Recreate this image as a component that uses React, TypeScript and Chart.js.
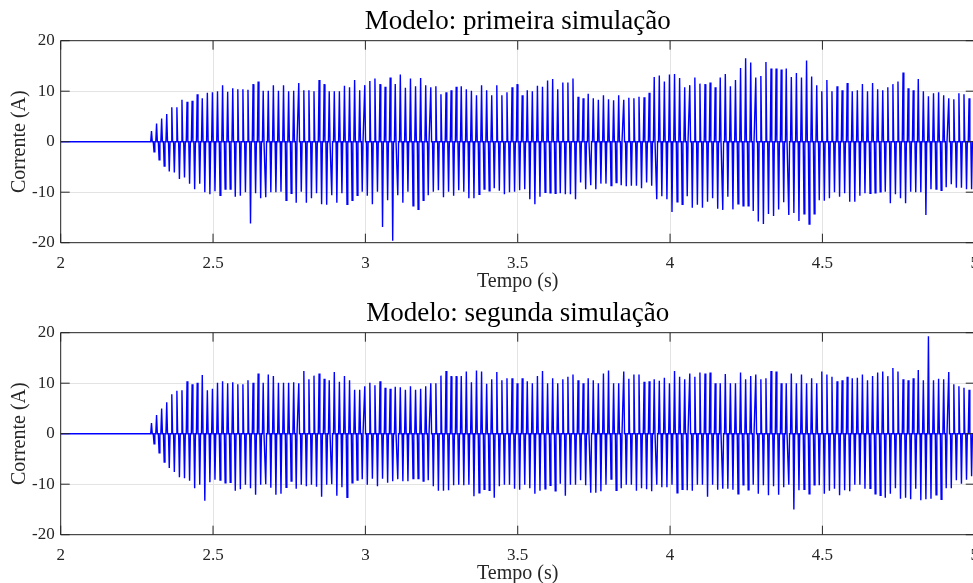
import React, { useEffect, useRef } from 'react';
import { Chart, registerables } from 'chart.js';

Chart.register(...registerables);

// Simulated current: one positive and one negative pulse per 60 Hz cycle
const pulseStart = 2.298; // s, first pulse
const pulsePeriod = 1 / 60; // s
const pulseHalfWidth = 0.0026; // s
const timeMin = 2;
const timeMax = 5;

const xTicks = [2, 2.5, 3, 3.5, 4, 4.5, 5];
const yTicks = [-20, -10, 0, 10, 20];

const firstTitle = 'Modelo: primeira simulação';
const secondTitle = 'Modelo: segunda simulação';
const xLabel = 'Tempo (s)';
const yLabel = 'Corrente (A)';

// Peak current of each cycle (A), first simulation
const firstPositive = [
  2.1, 3.6, 4.6, 5.5, 6.8, 6.8, 8.3, 7.9, 8.1, 9.4, 8.6, 9.7, 9.8, 10.0, 11.2, 9.9, 10.6, 10.4, 10.4, 10.3,
  11.4, 11.9, 10.1, 10.1, 11.2, 10.1, 11.2, 10.0, 10.1, 11.6, 10.2, 10.2,
  10.0, 12.2, 11.4, 10.0, 10.0, 10.0, 11.1, 10.8, 12.2, 10.2, 11.2, 12.0, 12.5, 11.4, 10.9, 12.7, 11.4, 13.3,
  10.7, 12.5, 11.0, 12.6, 11.2, 10.8, 11.0, 9.4, 9.8, 10.2, 10.9, 11.0, 10.4,
  10.1, 9.2, 11.2, 10.2, 9.2, 11.2, 9.2, 9.8, 10.8, 11.4, 9.2, 10.2, 10.0, 11.1, 10.9, 12.1, 12.4, 10.4,
  11.7, 11.7, 12.5, 8.9, 8.6, 9.5, 8.6, 8.3, 9.2, 8.4, 8.2, 9.2, 8.3, 8.7,
  8.6, 8.9, 8.8, 9.7, 12.8, 13.1, 11.9, 13.3, 13.4, 12.6, 10.8, 11.2, 12.7, 11.5, 11.4, 11.7, 10.8, 12.7,
  13.4, 11.0, 12.2, 14.6, 16.5, 15.7, 12.7, 13.0, 15.8, 14.5, 14.5, 14.3, 14.5,
  12.8, 13.6, 12.7, 16.1, 12.9, 11.2, 10.0, 12.2, 10.0, 11.0, 10.2, 11.6, 10.0, 10.2, 11.4, 10.0, 11.6, 10.4,
  10.2, 10.8, 11.4, 11.9, 13.7, 10.6, 10.2, 12.4, 10.0, 9.0, 9.6, 9.8, 9.2, 8.6, 8.4, 9.6, 9.4, 8.6,
];
const firstNegative = [
  -2.0, -3.6, -4.8, -5.9, -6.1, -7.4, -7.1, -8.3, -9.4, -8.3, -10.0, -10.4, -9.8, -10.6, -9.4, -9.4, -10.9,
  -10.7, -10.0, -16.2, -10.2, -11.2, -11.0, -10.0, -10.0, -9.9, -11.6, -10.2, -12.1, -9.9, -12.1,
  -11.2, -10.2, -12.4, -12.5, -10.6, -12.1, -10.2, -12.4, -11.6, -10.6, -9.9, -10.7, -12.4, -9.9, -16.9,
  -11.6, -19.6, -10.6, -12.1, -9.9, -12.7, -13.4, -11.6, -10.6, -9.9, -9.6, -11.0, -9.9, -10.7, -9.6, -9.9, -11.2,
  -11.2, -10.4, -9.4, -9.7, -9.2, -9.7, -10.4, -10.0, -9.9, -9.6, -9.4, -11.4, -12.4, -10.9, -10.0, -10.1,
  -10.2, -10.2, -10.4, -10.4, -11.4, -8.1, -9.4, -8.6, -9.4, -8.3, -8.3, -8.7, -8.1, -8.6, -8.8,
  -8.7, -8.7, -9.2, -8.1, -8.7, -11.4, -10.8, -11.4, -13.9, -11.9, -12.4, -10.8, -13.1, -12.5, -13.1, -11.9,
  -11.2, -13.3, -13.5, -10.9, -13.4, -12.3, -12.7, -12.7, -13.7, -15.8, -16.3, -14.3, -14.7, -13.4, -12.0, -14.5,
  -14.1, -15.7, -14.3, -16.3, -14.3, -11.6, -11.7, -11.2, -10.0, -10.9, -10.2, -11.9, -11.9, -10.7, -10.2,
  -10.2, -10.1, -9.9, -9.9, -12.2, -10.4, -11.2, -12.2, -9.9, -10.0, -10.0, -14.5, -9.4, -9.4, -9.6, -9.0,
  -8.4, -9.1, -9.1, -9.4, -9.4,
];

// Peak current of each cycle (A), second simulation
const secondPositive = [
  2.1, 3.7, 5.0, 6.2, 7.8, 8.5, 8.6, 10.4, 9.8, 10.1, 11.6, 8.6, 8.9, 10.1, 10.4, 10.0, 10.2, 9.8, 9.8, 10.6,
  10.1, 11.9, 10.1, 11.7, 11.4, 10.1, 10.1, 10.1, 10.2, 10.0, 12.4, 10.8,
  11.5, 11.9, 10.9, 10.6, 12.2, 10.3, 11.4, 10.6, 8.7, 8.7, 9.4, 10.1, 9.6, 10.4, 9.1, 8.9, 9.3, 9.2, 8.7,
  9.4, 8.7, 8.9, 9.4, 10.0, 10.0, 11.5, 12.4, 11.4, 11.4, 11.4, 12.3,
  10.2, 12.5, 12.3, 9.9, 10.8, 12.2, 10.6, 11.0, 11.0, 10.0, 11.0, 10.4, 10.0, 11.4, 12.4, 10.0, 11.0, 10.0,
  10.8, 11.3, 11.7, 10.6, 10.0, 11.0, 10.6, 10.0, 11.9, 12.5, 10.0, 10.0, 12.3, 10.9,
  11.7, 11.7, 10.3, 10.4, 10.8, 10.5, 11.1, 10.0, 12.4, 11.3, 10.8, 11.9, 11.3, 12.1, 11.9, 12.1, 10.0, 10.0,
  11.8, 10.0, 10.0, 12.1, 10.8, 11.4, 11.7, 10.8, 11.0, 12.4, 12.3, 10.0, 10.0,
  11.9, 10.0, 11.7, 10.0, 11.0, 10.0, 12.3, 11.7, 11.3, 10.4, 10.6, 11.3, 11.0, 11.1, 11.7, 10.6, 11.4, 12.1,
  12.3, 11.4, 13.0, 12.3, 10.8, 10.6, 11.0, 12.6, 10.6, 19.3, 10.6, 10.9, 10.8, 12.2, 9.8, 9.4, 9.1, 8.7,
];
const secondNegative = [
  -2.0, -3.8, -5.6, -6.8, -7.6, -8.6, -8.8, -9.3, -10.8, -10.1, -13.3, -9.6, -9.1, -9.2, -9.7, -9.6, -11.3,
  -11.0, -10.1, -10.8, -12.1, -10.1, -10.0, -10.7, -12.1, -11.9, -10.6, -9.4, -10.9, -10.1, -10.4,
  -10.1, -10.5, -12.5, -10.1, -10.0, -12.3, -10.6, -12.6, -9.7, -9.2, -9.0, -10.1, -8.9, -10.4, -8.9, -9.7,
  -9.4, -9.0, -9.4, -9.4, -8.9, -8.9, -9.4, -9.2, -10.4, -11.3, -11.3, -11.2, -10.2, -10.1, -10.2, -10.1,
  -12.4, -11.7, -11.0, -11.2, -12.7, -10.4, -10.1, -10.1, -10.9, -11.1, -10.1, -10.8, -11.9, -11.3, -10.9,
  -10.2, -11.3, -9.9, -12.3, -10.1, -10.1, -9.2, -10.2, -11.7, -11.7, -11.4, -10.1, -9.0, -11.2, -10.8, -10.1,
  -10.1, -11.3, -10.8, -11.0, -11.4, -10.1, -10.6, -10.6, -10.1, -11.7, -11.0, -11.2, -11.3, -10.1, -10.1,
  -12.5, -10.1, -11.1, -10.9, -10.9, -11.1, -11.9, -10.1, -11.1, -10.1, -11.9, -10.2, -12.2, -10.4, -12.1,
  -10.6, -10.1,
  -15.0, -11.2, -11.0, -11.9, -10.1, -10.2, -11.9, -11.3, -10.9, -12.2, -11.2, -11.4, -10.1, -10.1, -10.9,
  -10.8, -11.9, -12.2, -12.7, -11.9, -10.8, -12.9, -12.7, -13.0, -10.9, -13.2, -13.0, -12.9, -12.1, -13.0,
  -10.8, -10.8, -9.2, -9.9, -9.1, -8.4,
];

const FONT = 'Liberation Serif';
const TEXT = '#262626';
const GRID = '#e3e3e3';
const LINE = '#0000ff';

const CANVAS_W = 990;
const CANVAS_H = 292;

type Pt = { x: number; y: number };

function buildWave(pos: number[], neg: number[]): Pt[] {
  const pts: Pt[] = [{ x: timeMin, y: 0 }];
  for (let k = 0; k < pos.length; k++) {
    const tp = pulseStart + k * pulsePeriod;
    const tn = tp + pulsePeriod / 2;
    pts.push({ x: tp - pulseHalfWidth, y: 0 }, { x: tp, y: pos[k] }, { x: tp + pulseHalfWidth, y: 0 });
    pts.push({ x: tn - pulseHalfWidth, y: 0 }, { x: tn, y: neg[k] }, { x: tn + pulseHalfWidth, y: 0 });
  }
  pts.push({ x: timeMax, y: 0 });
  return pts;
}

// Box around the axes with inward tick marks on all four sides
const framePlugin = {
  id: 'frame',
  afterDraw(chart: any) {
    const { ctx, chartArea: a, scales } = chart;
    const tick = 9;
    ctx.save();
    ctx.strokeStyle = TEXT;
    ctx.lineWidth = 1;
    ctx.beginPath();
    ctx.rect(a.left, a.top, a.right - a.left, a.bottom - a.top);
    for (const v of xTicks) {
      const px = scales.x.getPixelForValue(v);
      ctx.moveTo(px, a.bottom);
      ctx.lineTo(px, a.bottom - tick);
      ctx.moveTo(px, a.top);
      ctx.lineTo(px, a.top + tick);
    }
    for (const v of yTicks) {
      const py = scales.y.getPixelForValue(v);
      ctx.moveTo(a.left, py);
      ctx.lineTo(a.left + tick, py);
      ctx.moveTo(a.right, py);
      ctx.lineTo(a.right - tick, py);
    }
    ctx.stroke();
    ctx.restore();
  },
};

function makeConfig(title: string, pos: number[], neg: number[]): any {
  return {
    type: 'line',
    data: {
      datasets: [
        {
          data: buildWave(pos, neg),
          borderColor: LINE,
          borderWidth: 1.4,
          pointRadius: 0,
          tension: 0,
          fill: false,
        },
      ],
    },
    options: {
      animation: false,
      responsive: false,
      parsing: false,
      normalized: true,
      events: [],
      layout: { padding: { left: 0, right: 14.3, top: 0, bottom: 0 } },
      plugins: {
        legend: { display: false },
        tooltip: { enabled: false },
        title: {
          display: true,
          text: title,
          fullSize: false,
          color: '#000',
          font: { family: FONT, size: 27, weight: 'normal', lineHeight: 1.2 },
          padding: { top: 6, bottom: 2.3 },
        },
      },
      scales: {
        x: {
          type: 'linear',
          min: timeMin,
          max: timeMax,
          afterBuildTicks: (s: any) => {
            s.ticks = xTicks.map((v) => ({ value: v }));
          },
          afterFit: (s: any) => {
            s.height = 49.3;
          },
          ticks: {
            color: TEXT,
            font: { family: FONT, size: 17 },
            padding: 11,
            maxRotation: 0,
            autoSkip: false,
            callback: (v: number) => String(v),
          },
          grid: { color: GRID, drawTicks: false },
          border: { display: false },
          title: {
            display: true,
            text: xLabel,
            color: TEXT,
            font: { family: FONT, size: 20, lineHeight: 1 },
            padding: { top: 0, bottom: 0 },
          },
        },
        y: {
          type: 'linear',
          min: -20,
          max: 20,
          afterBuildTicks: (s: any) => {
            s.ticks = yTicks.map((v) => ({ value: v }));
          },
          afterFit: (s: any) => {
            s.width = 60.7;
          },
          ticks: {
            color: TEXT,
            font: { family: FONT, size: 17 },
            padding: 6,
            autoSkip: false,
            callback: (v: number) => String(v),
          },
          grid: { color: GRID, drawTicks: false },
          border: { display: false },
          title: {
            display: true,
            text: yLabel,
            color: TEXT,
            font: { family: FONT, size: 20, lineHeight: 1 },
            padding: { top: 10, bottom: 0 },
          },
        },
      },
    },
    plugins: [framePlugin],
  };
}

function Panel({ title, pos, neg, top }: { title: string; pos: number[]; neg: number[]; top: number }) {
  const ref = useRef<HTMLCanvasElement | null>(null);
  useEffect(() => {
    if (!ref.current) return;
    const chart = new Chart(ref.current, makeConfig(title, pos, neg));
    return () => chart.destroy();
  }, [title, pos, neg]);
  return (
    <canvas
      ref={ref}
      width={CANVAS_W}
      height={CANVAS_H}
      style={{ position: 'absolute', left: 0, top, width: CANVAS_W, height: CANVAS_H }}
    />
  );
}

export default function App() {
  return (
    <div
      style={{
        position: 'fixed',
        left: 0,
        top: 0,
        width: 973,
        height: 583,
        overflow: 'hidden',
        background: '#ffffff',
      }}
    >
      <Panel title={firstTitle} pos={firstPositive} neg={firstNegative} top={0} />
      <Panel title={secondTitle} pos={secondPositive} neg={secondNegative} top={292} />
    </div>
  );
}
